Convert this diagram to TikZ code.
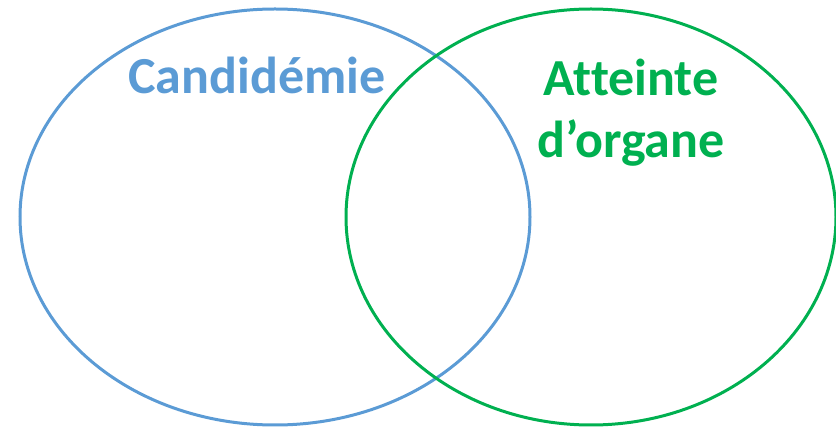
\documentclass[tikz,border=0pt]{standalone}
\usepackage{fontspec}
\setmainfont[Ligatures=NoCommon]{Carlito}
\definecolor{cblue}{HTML}{5B9BD5}
\definecolor{cgreen}{HTML}{00B050}
\begin{document}
\begin{tikzpicture}[x=1pt,y=-1pt,
  ring/.style={line width=3pt},
  lbl/.style={font=\fontsize{52}{60}\selectfont\bfseries, inner sep=0pt, align=center}]
\useasboundingbox (0,0) rectangle (836,430);
\draw[ring, cblue] (275,217) ellipse [x radius=255, y radius=208];
\draw[ring, cgreen] (591,217) ellipse [x radius=245, y radius=208];
\node[lbl, text=cblue, anchor=base] (cand) at (257,94) {Candidémie};
\node[lbl, text=cgreen, anchor=base] (att) at (631,96) {Atteinte};
\node[lbl, text=cgreen, anchor=base] (org) at (631,158) {d’organe};
\end{tikzpicture}
\end{document}
